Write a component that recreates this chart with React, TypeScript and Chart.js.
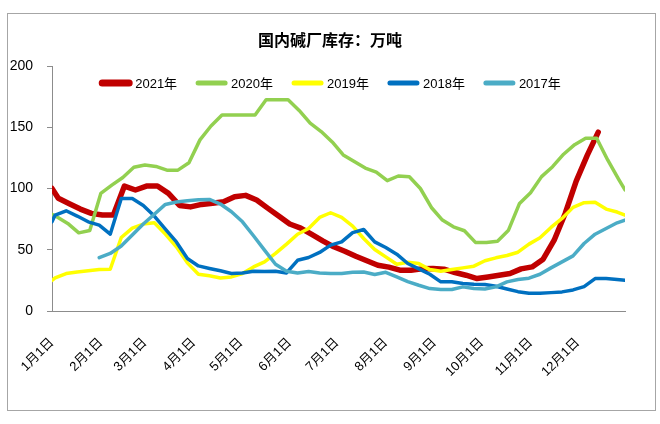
import React, { useEffect, useRef } from 'react';
import { Chart, registerables } from 'chart.js';

Chart.register(...registerables);

// Tick positions (day of year) and labels for the x axis
const monthDays = [0, 31, 59, 90, 120, 151, 181, 212, 243, 273, 304, 334];
const monthLabels = ['1月1日', '2月1日', '3月1日', '4月1日', '5月1日', '6月1日', '7月1日', '8月1日', '9月1日', '10月1日', '11月1日', '12月1日'];

const weekly = (start: number, count: number) => Array.from({ length: count }, (_, k) => start + 7 * k);

// Dates (day of year) of each weekly observation
const days2021 = [0, ...weekly(4, 50)];
const days2020 = [0, ...weekly(3, 52), 364];
const days2019 = [0, ...weekly(2, 52), 364];
const days2018 = [0, ...weekly(2, 52), 364];
const days2017 = [...weekly(30, 48), 364];

// Inventory, 10k tonnes
const inv2021 = [100, 92, 87.6, 83.2, 79.7, 78.3, 78.3, 102, 98.8, 102, 102, 96, 86.2, 85, 87, 87.9, 89.2, 93.3, 94.4, 90.6, 84, 77.5, 71, 67.7, 62.5, 57.3, 52.4, 48.8, 44.7, 41, 37.4, 35.8, 33.3, 33.3, 34.4, 34.7, 34.1, 31.4, 29.2, 26.5, 27.8, 29.2, 30.6, 34.4, 36, 42.3, 57.8, 79.6, 106, 127, 146];
const inv2020 = [79, 77, 71.5, 63.8, 65.7, 96, 102.8, 109, 117.3, 119.2, 118, 115, 115, 121, 139.7, 151, 160, 160, 160, 160, 172.4, 172.4, 172.4, 163.7, 153.3, 146.5, 138, 127.4, 122, 116.7, 113.4, 106.4, 110.2, 109.6, 100, 84.5, 74.2, 68.7, 65.5, 56, 56, 57, 66, 87.8, 96.6, 109.7, 117.8, 128, 135.8, 141, 141, 123.3, 107.5, 98.8];
const inv2019 = [25, 27, 30.6, 31.9, 32.8, 33.9, 34.1, 60, 67.7, 71, 72, 62.8, 52.4, 39.3, 30, 28.7, 27, 27.8, 30.6, 36, 40.1, 47, 54.6, 62.7, 67.4, 76.4, 80.2, 76.4, 69.3, 59.2, 50.2, 44.2, 38.2, 39.8, 38.7, 33.8, 32.4, 33.8, 35.2, 36.6, 41, 43.4, 45.3, 48, 54.6, 59.8, 68.2, 75.6, 84.6, 88.4, 88.7, 83.2, 80.8, 78.3];
const inv2018 = [72.8, 78.3, 81.8, 77.5, 72.8, 70.1, 62.7, 91.9, 91.9, 86.2, 77.5, 66.8, 56.4, 42.8, 36.8, 34.7, 32.8, 30.6, 31.1, 32.5, 32.2, 32.5, 31.1, 41.4, 43.7, 47.8, 53.8, 56.4, 64, 66.5, 56.4, 51.8, 46.4, 38.8, 34.4, 30, 23.8, 23.8, 22.4, 21.9, 21.6, 20.2, 18, 15.8, 14.5, 14.5, 15, 15.6, 17.2, 19.9, 26.5, 26.5, 25.7, 25.1];
const inv2017 = [43.6, 47, 53, 62, 71, 79, 87, 89, 90, 90.8, 91.1, 87.3, 81, 72.8, 61.4, 49.7, 38.2, 32.5, 31.1, 32.2, 31.1, 30.6, 30.6, 31.6, 31.9, 29.8, 31.6, 27.8, 24, 21, 18.3, 17.5, 17.5, 19.7, 18.3, 18, 19.7, 23.8, 25.7, 26.8, 30, 35.2, 40.1, 45, 55.1, 62.7, 67.4, 72, 74.2];

const seriesNames = ['2021年', '2020年', '2019年', '2018年', '2017年'];
const chartTitle = '国内碱厂库存：万吨';
const FONT = "'Liberation Sans', 'Noto Sans CJK SC', sans-serif";

const pts = (d: number[], v: number[]) => d.map((x, i) => ({ x, y: v[i] }));

const framePlugin = {
  id: 'frame',
  beforeDraw(chart: any) {
    const { ctx } = chart;
    ctx.save();
    ctx.fillStyle = '#ffffff';
    ctx.fillRect(0, 0, chart.width, chart.height);
    ctx.strokeStyle = '#a6a6a6';
    ctx.lineWidth = 1;
    ctx.strokeRect(7.5, 13.5, 648, 397);
    // title
    ctx.fillStyle = '#000000';
    ctx.font = "bold 16px 'Noto Sans CJK SC', sans-serif";
    ctx.textAlign = 'center';
    ctx.textBaseline = 'middle';
    ctx.fillText(chartTitle, chart.width / 2, 40);
    ctx.restore();
  },
};

const legendPlugin = {
  id: 'lineLegend',
  afterDatasetsDraw(chart: any) {
    const { ctx } = chart;
    const ds = chart.data.datasets;
    ctx.save();
    ctx.font = `13px ${FONT}`;
    const lineLen = 33;
    const gap = 3;
    const spacing = 18;
    const widths = ds.map((d: any) => lineLen + gap + ctx.measureText(d.label).width);
    const total = widths.reduce((a: number, b: number) => a + b, 0) + spacing * (ds.length - 1);
    let x = chart.width / 2 - total / 2;
    const y = 83;
    ds.forEach((d: any, i: number) => {
      ctx.strokeStyle = d.borderColor;
      ctx.lineWidth = i === 0 ? 7 : 5;
      ctx.lineCap = 'round';
      ctx.beginPath();
      ctx.moveTo(x + 3, y);
      ctx.lineTo(x + lineLen - 3, y);
      ctx.stroke();
      ctx.fillStyle = '#000000';
      ctx.textBaseline = 'middle';
      ctx.textAlign = 'left';
      ctx.fillText(d.label, x + lineLen + gap, y + 1);
      x += widths[i] + spacing;
    });
    ctx.restore();
  },
};

export default function App() {
  const ref = useRef<HTMLCanvasElement | null>(null);

  useEffect(() => {
    if (!ref.current) return;
    const mk = (label: string, d: number[], v: number[], color: string, width: number, order: number) => ({
      label,
      data: pts(d, v),
      borderColor: color,
      backgroundColor: color,
      borderWidth: width,
      pointRadius: 0,
      tension: 0,
      fill: false,
      borderCapStyle: 'round',
      borderJoinStyle: 'round',
      order,
    });
    const chart = new Chart(ref.current, {
      type: 'line',
      data: {
        datasets: [
          mk(seriesNames[0], days2021, inv2021, '#C00000', 5.5, 5),
          mk(seriesNames[1], days2020, inv2020, '#92D050', 3.5, 4),
          mk(seriesNames[2], days2019, inv2019, '#FFFF00', 3.5, 3),
          mk(seriesNames[3], days2018, inv2018, '#0070C0', 3.5, 2),
          mk(seriesNames[4], days2017, inv2017, '#4BACC6', 3.5, 1),
        ] as any,
      },
      options: {
        responsive: false,
        animation: false,
        layout: { padding: { left: 8, right: 35, top: 66, bottom: 0 } },
        scales: {
          x: {
            type: 'linear',
            min: 0,
            max: 364,
            afterBuildTicks: (s: any) => {
              s.ticks = monthDays.map((v) => ({ value: v }));
            },
            afterFit: (s: any) => {
              s.height = 113;
              s.paddingLeft = 0;
              s.paddingRight = 0;
            },
            grid: { display: false, drawTicks: false },
            border: { display: true, color: '#8c8c8c', width: 1 },
            ticks: {
              autoSkip: false,
              minRotation: 45,
              maxRotation: 45,
              padding: 24,
              color: '#000000',
              font: { family: FONT, size: 13 },
              callback: (_v: any, i: number) => monthLabels[i],
            },
          },
          y: {
            min: 0,
            max: 200,
            afterFit: (s: any) => {
              s.width = 44;
            },
            ticks: { stepSize: 50, padding: 14, color: '#000000', font: { family: FONT, size: 14 } },
            grid: { drawOnChartArea: false, drawTicks: true, tickLength: 5, color: '#8c8c8c' },
            border: { color: '#8c8c8c', width: 1 },
          },
        },
        plugins: {
          title: { display: false },
          legend: { display: false },
          tooltip: { enabled: false },
        },
      } as any,
      plugins: [framePlugin, legendPlugin],
    });
    return () => chart.destroy();
  }, []);

  return (
    <div style={{ position: 'absolute', left: 0, top: 0, width: 660, height: 424 }}>
      <canvas ref={ref} width={660} height={424} style={{ display: 'block' }} />
    </div>
  );
}
